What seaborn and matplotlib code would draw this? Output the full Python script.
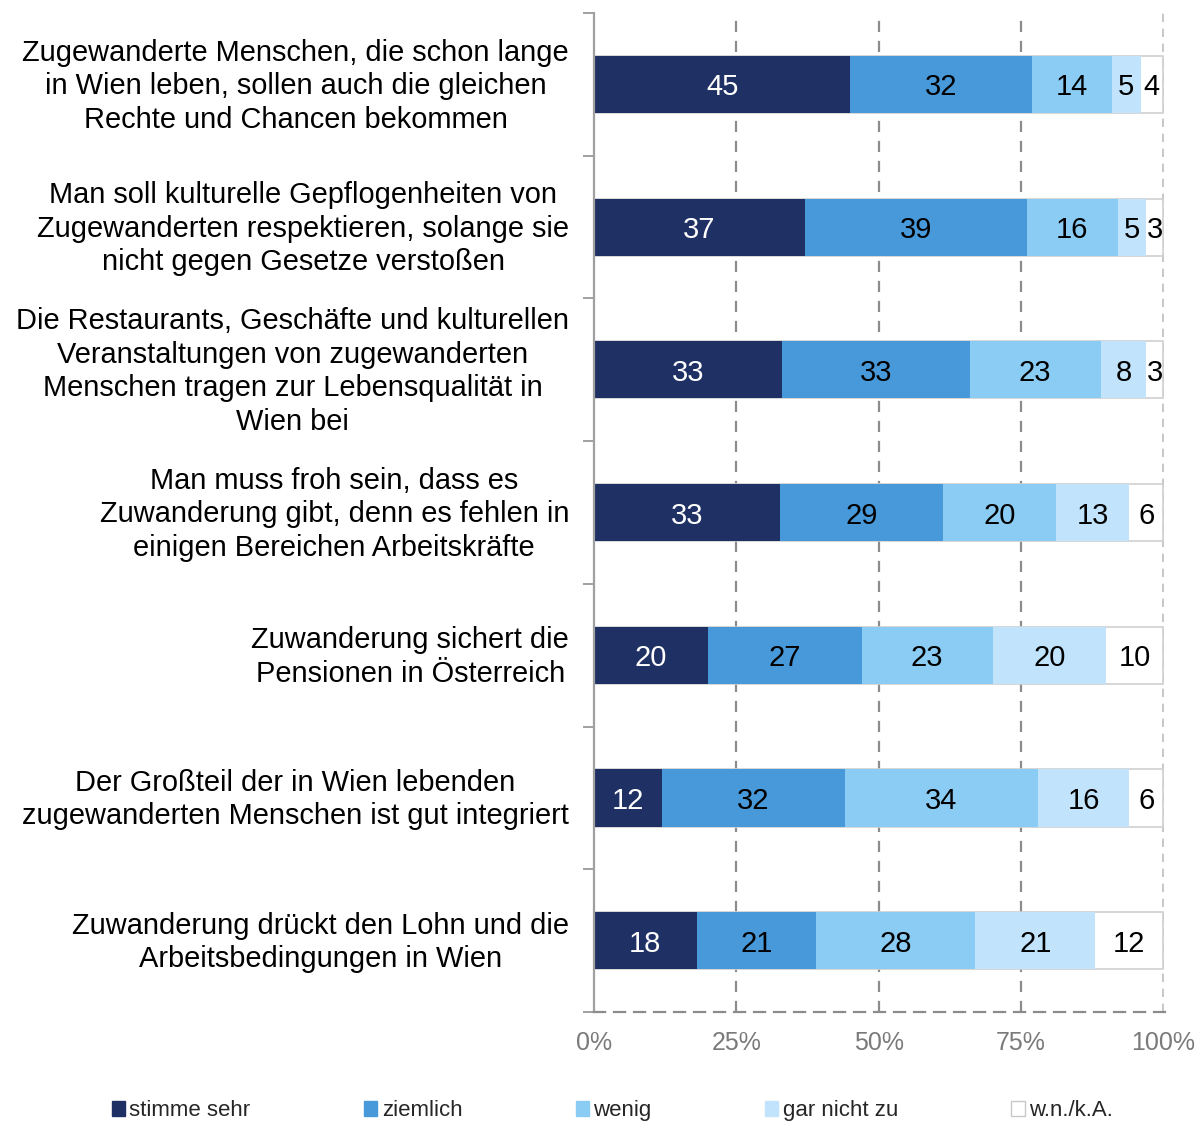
import pandas as pd
import numpy as np
import matplotlib
matplotlib.use("Agg")
import matplotlib.pyplot as plt
import matplotlib.transforms as mtransforms
import seaborn as sns
from matplotlib.patches import Patch

# --- data ---
statements = [
    "Zugewanderte Menschen, die schon lange\nin Wien leben, sollen auch die gleichen\nRechte und Chancen bekommen",
    "Man soll kulturelle Gepflogenheiten von\nZugewanderten respektieren, solange sie\nnicht gegen Gesetze verstoßen",
    "Die Restaurants, Geschäfte und kulturellen\nVeranstaltungen von zugewanderten\nMenschen tragen zur Lebensqualität in\nWien bei",
    "Man muss froh sein, dass es\nZuwanderung gibt, denn es fehlen in\neinigen Bereichen Arbeitskräfte",
    "Zuwanderung sichert die\nPensionen in Österreich",
    "Der Großteil der in Wien lebenden\nzugewanderten Menschen ist gut integriert",
    "Zuwanderung drückt den Lohn und die\nArbeitsbedingungen in Wien",
]
categories = ["stimme sehr", "ziemlich", "wenig", "gar nicht zu", "w.n./k.A."]
stimme_sehr = [45, 37, 33, 33, 20, 12, 18]
ziemlich = [32, 39, 33, 29, 27, 32, 21]
wenig = [14, 16, 23, 20, 23, 34, 28]
gar_nicht = [5, 5, 8, 13, 20, 16, 21]
wn_ka = [4, 3, 3, 6, 10, 6, 12]

colors = ["#1F3064", "#4899DA", "#8BCCF4", "#C1E3FB", "#FFFFFF"]
edges = ["none", "none", "none", "none", "#D0D0D0"]
text_colors = ["white", "black", "black", "black", "black"]

df = pd.DataFrame({
    "statement": statements,
    categories[0]: stimme_sehr,
    categories[1]: ziemlich,
    categories[2]: wenig,
    categories[3]: gar_nicht,
    categories[4]: wn_ka,
})
vals = df[categories]
pct = vals.div(vals.sum(axis=1), axis=0) * 100
cum = pct.cumsum(axis=1)

sns.set_theme(style="white")
plt.rcParams["font.family"] = ["Liberation Sans", "DejaVu Sans"]

fig = plt.figure(figsize=(12.03, 11.22), dpi=100)
ax = fig.add_axes([0.4938, 0.098, 0.4746, 0.8904])

# stacked bars: draw cumulative totals from the outermost segment inwards
for i in range(len(categories) - 1, -1, -1):
    sns.barplot(x=cum[categories[i]], y=df["statement"], orient="h",
                color=colors[i], edgecolor=edges[i], linewidth=1.2 if i == 4 else 0,
                width=0.4, saturation=1, ax=ax)

# value labels
for r in range(len(df)):
    left = 0
    for i, c in enumerate(categories):
        w = pct.loc[r, c]
        ax.text(left + w / 2, r, str(vals.loc[r, c]), ha="center", va="center_baseline",
                fontsize=21, color=text_colors[i])
        left += w

ax.set_xlim(0, 100.3)
ax.set_ylim(len(df) - 0.5, -0.5)
ax.set_xticks([0, 25, 50, 75, 100])
ax.set_xticklabels(["0%", "25%", "50%", "75%", "100%"], fontsize=18, color="#7A7A7A")
ax.set_xlabel("")
ax.set_ylabel("")

for x in [25, 50, 75]:
    ax.axvline(x, color="#8C8C8C", linestyle=(0, (5, 4)), linewidth=1.6, zorder=0)
ax.axvline(100, color="#BDBDBD", linestyle=(0, (5, 4)), linewidth=1.2, zorder=0)

for s in ["top", "right"]:
    ax.spines[s].set_visible(False)
ax.spines["left"].set_color("#A0A0A0")
ax.spines["left"].set_linewidth(1.6)
ax.spines["bottom"].set_color("#8C8C8C")
ax.spines["bottom"].set_linewidth(1.6)
ax.spines["bottom"].set_linestyle((0, (5, 4)))

ax.tick_params(axis="x", direction="inout", length=10, width=1.4, color="#8C8C8C", pad=9)
ax.tick_params(axis="y", length=0, pad=18, labelsize=20.9, labelcolor="black")
# nudge the statement labels up a little
shift = mtransforms.ScaledTranslation(0, 4 / 100, fig.dpi_scale_trans)
for lab in ax.get_yticklabels():
    lab.set_multialignment("center")
    lab.set_linespacing(1.25)
    lab.set_transform(lab.get_transform() + shift)
ax.set_yticks(np.arange(-0.5, len(df), 1), minor=True)
ax.tick_params(axis="y", which="minor", direction="out", length=8, width=1.4, color="#A0A0A0", left=True)

handles = [Patch(facecolor=colors[i], edgecolor=("#C8C8C8" if i == 4 else colors[i]), label=c)
           for i, c in enumerate(categories)]
fig.legend(handles=handles, loc="center", bbox_to_anchor=(0.509, 0.01), ncol=5,
           frameon=False, fontsize=16, handlelength=0.6, handleheight=0.6,
           handletextpad=0.2, columnspacing=5.1)

fig.savefig("out.png", dpi=100)
